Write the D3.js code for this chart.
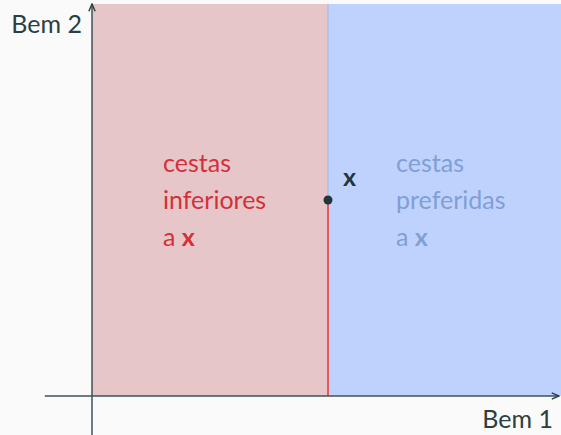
<!DOCTYPE html>
<html>
<head>
<meta charset="utf-8">
<script src="https://cdn.jsdelivr.net/npm/d3@7"></script>
<style>
  body { margin: 0; background: #fafafa; }
  svg { display: block; font-family: Lato, "Open Sans", sans-serif; }
</style>
</head>
<body>
<script>
'use strict';

// bundle x and the two regions around it
const bundle = [5, 5];
const xDomain = [0, 10];
const yDomain = [0, 10];
const axisLabels = ["Bem 1", "Bem 2"];
const inferiorLines = ["cestas", "inferiores", "a "];
const preferredLines = ["cestas", "preferidas", "a "];

const width = 561, height = 435;
const fontSize = '25px';

const svg = d3.select('body').append('svg')
  .attr('width', width)
  .attr('height', height);

const x = d3.scaleLinear().domain(xDomain).range([92, 564]);
const y = d3.scaleLinear().domain(yDomain).range([396, 4]);

// regions
svg.append('rect')
  .attr('x', x(0)).attr('y', y(10))
  .attr('width', x(bundle[0]) - x(0))
  .attr('height', y(0) - y(10))
  .attr('fill', '#e6c6c8');

svg.append('rect')
  .attr('x', x(bundle[0])).attr('y', y(10))
  .attr('width', x(10) - x(bundle[0]))
  .attr('height', y(0) - y(10))
  .attr('fill', '#bfd2fd');

svg.append('line')
  .attr('x1', x(bundle[0])).attr('x2', x(bundle[0]))
  .attr('y1', y(10)).attr('y2', y(bundle[1]))
  .attr('stroke', '#9fb8e8').attr('stroke-width', 1);

// vertical red line under x
svg.append('line')
  .attr('x1', x(bundle[0])).attr('x2', x(bundle[0]))
  .attr('y1', y(bundle[1])).attr('y2', y(0))
  .attr('stroke', '#e05a5e').attr('stroke-width', 2);

// arrow marker
svg.append('defs').append('marker')
  .attr('id', 'arrow')
  .attr('viewBox', '0 0 10 10')
  .attr('refX', 9).attr('refY', 5)
  .attr('markerWidth', 6).attr('markerHeight', 6)
  .attr('orient', 'auto')
  .append('path')
    .attr('d', 'M1,1.5 L9,5 L1,8.5')
    .attr('fill', 'none')
    .attr('stroke', '#2c3e42')
    .attr('stroke-width', 1.6);

// axes
svg.append('line')
  .attr('x1', x(-1)).attr('x2', 559)
  .attr('y1', y(0)).attr('y2', y(0))
  .attr('stroke', '#3e5256').attr('stroke-width', 1.5)
  .attr('marker-end', 'url(#arrow)');

svg.append('line')
  .attr('x1', x(0)).attr('x2', x(0))
  .attr('y1', height).attr('y2', 4)
  .attr('stroke', '#3e5256').attr('stroke-width', 1.5)
  .attr('marker-end', 'url(#arrow)');

// bundle point
svg.append('circle')
  .attr('cx', x(bundle[0])).attr('cy', y(bundle[1]))
  .attr('r', 4.5)
  .attr('fill', '#22373b');

svg.append('text')
  .attr('x', x(bundle[0]) + 15).attr('y', y(bundle[1]) - 14)
  .attr('fill', '#22373b')
  .style('font-size', fontSize).style('font-weight', 'bold')
  .text('x');

// axis labels
svg.append('text')
  .attr('x', 553).attr('y', 428)
  .attr('text-anchor', 'end')
  .attr('fill', '#2c3e42')
  .style('font-size', fontSize)
  .text(axisLabels[0]);

svg.append('text')
  .attr('x', 82).attr('y', 33)
  .attr('text-anchor', 'end')
  .attr('fill', '#2c3e42')
  .style('font-size', fontSize)
  .text(axisLabels[1]);

// region texts
function regionText(lines, px, color) {
  const t = svg.append('text')
    .attr('fill', color)
    .style('font-size', fontSize);
  lines.forEach((l, i) => {
    t.append('tspan')
      .attr('x', px).attr('y', 172 + i * 37)
      .text(l);
    if (i === lines.length - 1) {
      t.append('tspan').style('font-weight', 'bold').text('x');
    }
  });
}
regionText(inferiorLines, 163, '#d3303a');
regionText(preferredLines, 396, '#7f9fd6');
</script>
</body>
</html>
